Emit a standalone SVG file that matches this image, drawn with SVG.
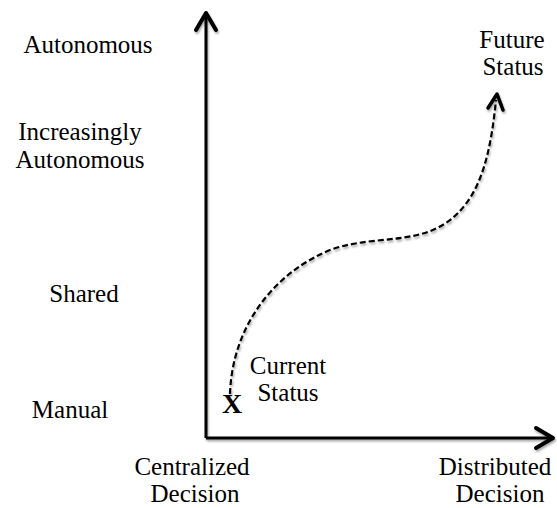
<svg xmlns="http://www.w3.org/2000/svg" width="557" height="508" viewBox="0 0 557 508">
<defs>
<style>
text{font-family:"Liberation Serif","Times New Roman",serif;font-size:25px;fill:#000}
.axis{stroke:#000;stroke-width:3;fill:none}
.head{stroke:#000;stroke-width:4;fill:none;stroke-linecap:round;stroke-linejoin:round}
.curve{stroke:#000;stroke-width:2.2;fill:none;stroke-dasharray:6 3}
</style>
<filter id="sh" x="-10%" y="-10%" width="120%" height="120%"><feGaussianBlur in="SourceAlpha" stdDeviation="1.2"/><feOffset dx="1" dy="2"/><feComponentTransfer><feFuncA type="linear" slope="0.35"/></feComponentTransfer><feMerge><feMergeNode/><feMergeNode in="SourceGraphic"/></feMerge></filter>
</defs>
<rect width="557" height="508" fill="#fff"/>
<g id="connectors" filter="url(#sh)">
<path class="axis" d="M206,438 V14"/>
<path class="head" d="M196,30 L206,13 L216,30"/>
<path class="axis" d="M206,438 H551"/>
<path class="head" d="M536,428 L553,438 L536,448"/>
<path class="curve" d="M230,394 C232,330 270,275 330,250 C380,232 430,250 465,205 C485,180 492,140 496,100"/>
<path class="head" d="M488,108 L497,94 L503,110" style="stroke-width:3.5"/>
</g>
<g id="y-autonomous"><text x="88" y="53" text-anchor="middle">Autonomous</text></g>
<g id="y-increasingly"><text x="80" y="140" text-anchor="middle">Increasingly</text><text x="80" y="168" text-anchor="middle">Autonomous</text></g>
<g id="y-shared"><text x="84" y="302" text-anchor="middle">Shared</text></g>
<g id="y-manual"><text x="70" y="418" text-anchor="middle">Manual</text></g>
<g id="x-centralized"><text x="192" y="475" text-anchor="middle">Centralized</text><text x="195" y="502" text-anchor="middle">Decision</text></g>
<g id="x-distributed"><text x="495" y="475" text-anchor="middle">Distributed</text><text x="500" y="502" text-anchor="middle">Decision</text></g>
<g id="current"><text x="232" y="413" text-anchor="middle" style="font-size:28px;font-weight:bold">X</text><text x="288" y="374" text-anchor="middle">Current</text><text x="288" y="401" text-anchor="middle">Status</text></g>
<g id="future"><text x="512" y="48" text-anchor="middle">Future</text><text x="513" y="75" text-anchor="middle">Status</text></g>
</svg>
